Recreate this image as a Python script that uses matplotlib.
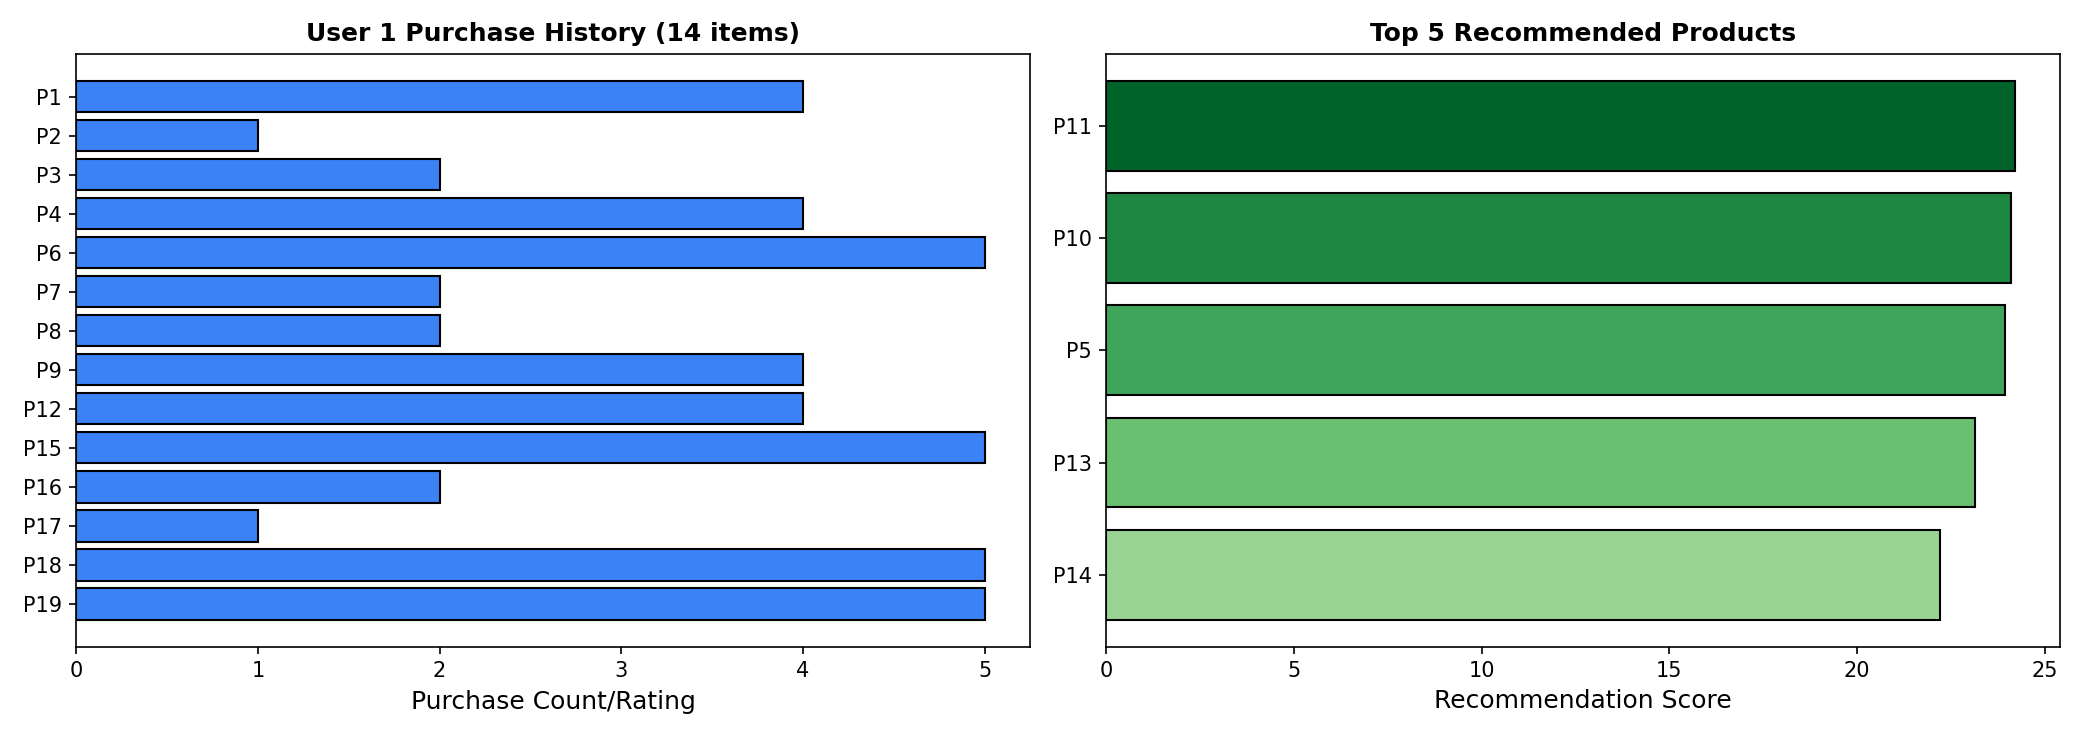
import matplotlib
matplotlib.use("Agg")
import matplotlib.pyplot as plt

hist_products = ["P1","P2","P3","P4","P6","P7","P8","P9","P12","P15","P16","P17","P18","P19"]
hist_values = [4,1,2,4,5,2,2,4,4,5,2,1,5,5]
rec_products = ["P11","P10","P5","P13","P14"]
rec_scores = [24.2,24.1,23.95,23.15,22.2]
rec_colors = ["#00642a","#1d8641","#3fa55b","#6bbf70","#9ad494"]

fig, (ax1, ax2) = plt.subplots(1, 2, figsize=(2084/150, 736/150), dpi=150)

ax1.barh(range(len(hist_products)), hist_values, color="#3b82f6", edgecolor="black")
ax1.set_yticks(range(len(hist_products)))
ax1.set_yticklabels(hist_products)
ax1.invert_yaxis()
ax1.set_xlabel("Purchase Count/Rating", fontsize=12)
ax1.set_title("User 1 Purchase History (14 items)", fontweight="bold", fontsize=12)

ax2.barh(range(len(rec_products)), rec_scores, color=rec_colors, edgecolor="black")
ax2.set_yticks(range(len(rec_products)))
ax2.set_yticklabels(rec_products)
ax2.invert_yaxis()
ax2.set_xlabel("Recommendation Score", fontsize=12)
ax2.set_title("Top 5 Recommended Products", fontweight="bold", fontsize=12)

fig.tight_layout()
fig.savefig("out.png", dpi=150)
